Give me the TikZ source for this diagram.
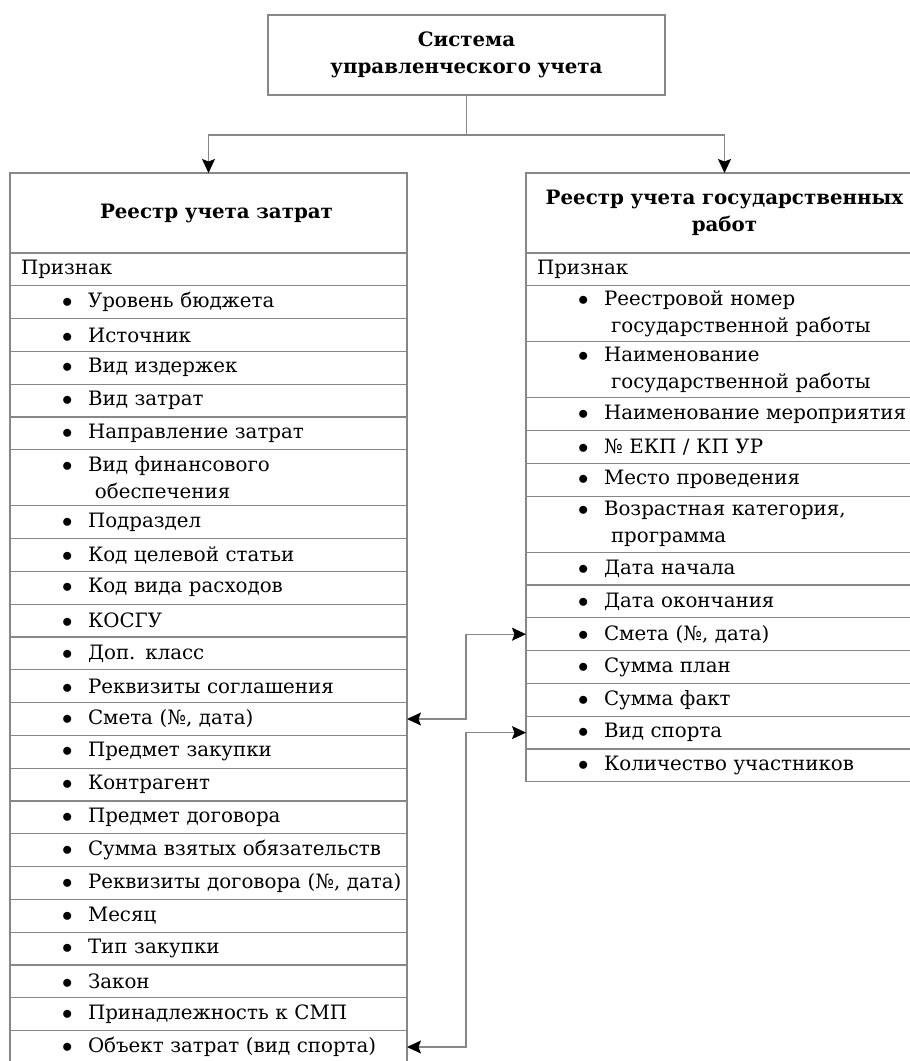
\documentclass[tikz,border=0pt]{standalone}
\usepackage{fontspec}
\setmainfont{DejaVu Serif}
\usetikzlibrary{arrows.meta,positioning}
\definecolor{linegray}{RGB}{135,135,135}
\newcommand{\itm}[1]{\hspace*{52pt}\makebox[26pt][l]{$\bullet$}\mbox{#1}}

\begin{document}
\begin{tikzpicture}[x=1pt,y=-1pt,node distance=0pt,line width=1.2pt,
    >={Stealth[length=14pt,width=13pt,inset=2.5pt,black]},
    box/.style={draw=linegray,text width=397pt,inner xsep=0pt,inner ysep=0pt,outer sep=0pt,font=\fontsize{19.8}{27}\selectfont},
    head/.style={box,align=center,minimum height=80pt,font=\bfseries\fontsize{19.8}{27}\selectfont},
    row/.style={box,align=left,minimum height=32.8pt},
    dbl/.style={row,minimum height=56pt}]
    \useasboundingbox (0,0) rectangle (910,1061);
    \clip (0,0) rectangle (910,1061);
        \node[head] (sys) at (466.5,55) {Система\\управленческого учета};

        \node[head,anchor=north west] (zh) at (10,173) {\hspace*{16pt}Реестр учета затрат};
        \node[row,below=of zh] (zp) {\hspace*{11pt}Признак};
        \node[row,below=of zp] (z1) {\itm{Уровень бюджета}};
        \node[row,below=of z1] (z2) {\itm{Источник}};
        \node[row,below=of z2] (z3) {\itm{Вид издержек}};
        \node[row,below=of z3] (z4) {\itm{Вид затрат}};
        \node[row,below=of z4] (z5) {\itm{Направление затрат}};
        \node[dbl,below=of z5] (z6) {\itm{Вид финансового}\\\hspace*{85pt}обеспечения};
        \node[row,below=of z6] (z7) {\itm{Подраздел}};
        \node[row,below=of z7] (z8) {\itm{Код целевой статьи}};
        \node[row,below=of z8] (z9) {\itm{Код вида расходов}};
        \node[row,below=of z9] (z10) {\itm{КОСГУ}};
        \node[row,below=of z10] (z11) {\itm{Доп. класс}};
        \node[row,below=of z11] (z12) {\itm{Реквизиты соглашения}};
        \node[row,below=of z12] (z13) {\itm{Смета (№, дата)}};
        \node[row,below=of z13] (z14) {\itm{Предмет закупки}};
        \node[row,below=of z14] (z15) {\itm{Контрагент}};
        \node[row,below=of z15] (z16) {\itm{Предмет договора}};
        \node[row,below=of z16] (z17) {\itm{Сумма взятых обязательств}};
        \node[row,below=of z17] (z18) {\itm{Реквизиты договора (№, дата)}};
        \node[row,below=of z18] (z19) {\itm{Месяц}};
        \node[row,below=of z19] (z20) {\itm{Тип закупки}};
        \node[row,below=of z20] (z21) {\itm{Закон}};
        \node[row,below=of z21] (z22) {\itm{Принадлежность к СМП}};
        \node[row,below=of z22] (z23) {\itm{Объект затрат (вид спорта)}};

        \node[head,anchor=north west] (gh) at (526,173) {Реестр учета государственных\\работ};
        \node[row,below=of gh] (gp) {\hspace*{11pt}Признак};
        \node[dbl,below=of gp] (g1) {\itm{Реестровой номер}\\\hspace*{85pt}государственной работы};
        \node[dbl,below=of g1] (g2) {\itm{Наименование}\\\hspace*{85pt}государственной работы};
        \node[row,below=of g2] (g3) {\itm{Наименование мероприятия}};
        \node[row,below=of g3] (g4) {\itm{№ ЕКП / КП УР}};
        \node[row,below=of g4] (g5) {\itm{Место проведения}};
        \node[dbl,below=of g5] (g6) {\itm{Возрастная категория,}\\\hspace*{85pt}программа};
        \node[row,below=of g6] (g7) {\itm{Дата начала}};
        \node[row,below=of g7] (g8) {\itm{Дата окончания}};
        \node[row,below=of g8] (g9) {\itm{Смета (№, дата)}};
        \node[row,below=of g9] (g10) {\itm{Сумма план}};
        \node[row,below=of g10] (g11) {\itm{Сумма факт}};
        \node[row,below=of g11] (g12) {\itm{Вид спорта}};
        \node[row,below=of g12] (g13) {\itm{Количество участников}};

        \draw [->,linegray] (sys.south) -- ++(0,40) -| (zh.north);
        \draw [->,linegray] (sys.south) -- ++(0,40) -| (gh.north);
        \draw [<->,linegray] (z13.east) -- ++(59,0) |- (g9.west);
        \draw [<->,linegray] (g12.west) -- ++(-60,0) |- (z23.east);
    \end{tikzpicture}
\end{document}
